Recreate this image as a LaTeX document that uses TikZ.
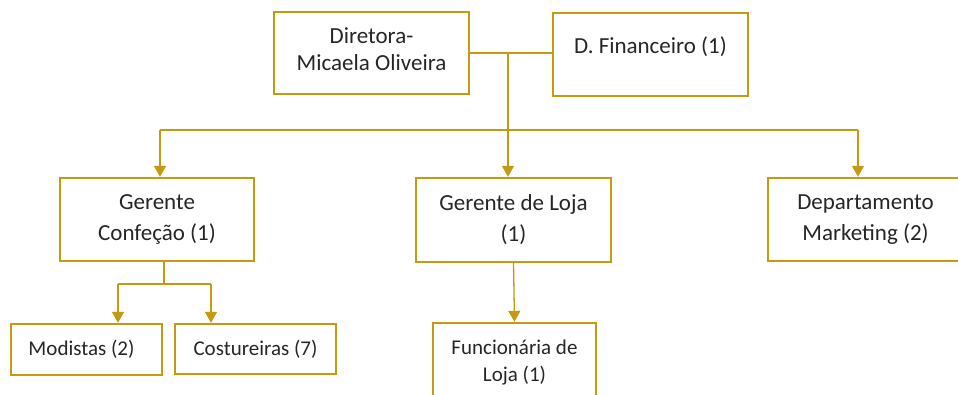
\documentclass[tikz,border=0pt]{standalone}
\usepackage{fontspec}
\setmainfont{Carlito}
\usetikzlibrary{arrows.meta}
\definecolor{gold}{HTML}{C59A10}
\tikzset{
  box/.style={draw=gold, line width=2.4bp, fill=white, align=center, inner sep=0pt,
    font=\fontsize{23bp}{27bp}\selectfont, text=black!85},
  wide/.style={font=\fontsize{23bp}{31bp}\selectfont},
  small/.style={font=\fontsize{21bp}{27bp}\selectfont},
  conn/.style={draw=gold, line width=1.3bp},
  arr/.style={conn, -{Triangle[width=12bp,length=11bp]}}
}
\begin{document}
\begin{tikzpicture}[x=1bp,y=-1bp]
\path[use as bounding box, clip] (0,0) rectangle (958,394);
\fill[white] (0,0) rectangle (958,394);
% boxes
\node[box, minimum width=195bp, minimum height=82bp, text depth=8bp] (dir) at (371.5,53) {Diretora-\\Micaela Oliveira};
\node[box, minimum width=195bp, minimum height=83bp, text depth=18bp] (fin) at (650.5,54.5) {D. Financeiro (1)};
\node[box, wide, minimum width=194bp, minimum height=83bp] (conf) at (157,219.5) {Gerente\\Confeção (1)};
\node[box, wide, minimum width=195bp, minimum height=84bp] (loja) at (513.5,220) {Gerente de Loja\\(1)};
\node[box, wide, minimum width=195bp, minimum height=83bp] (dep) at (865.5,219.5) {Departamento\\Marketing (2)};
\node[box, small, minimum width=151bp, minimum height=51bp] (mod) at (86.5,349.5) {Modistas (2)\hspace{10bp}};
\node[box, small, minimum width=161bp, minimum height=50bp] (cost) at (255.5,349) {Costureiras (7)};
\node[box, small, minimum width=163bp, minimum height=84bp, text depth=9bp] (func) at (514.5,365) {Funcionária de\\Loja (1)};
% connectors
\draw[conn] (dir.east) -- (dir.east -| fin.west);
\coordinate (j) at (508,53);
\draw[arr] (j) -- (j |- loja.north);
\coordinate (busL) at (160,130);
\coordinate (busR) at (858,130);
\draw[conn] (busL) -- (busR);
\draw[arr] (busL) -- (busL |- conf.north);
\draw[arr] (busR) -- (busR |- dep.north);
\coordinate (cs) at (164,0);
\coordinate (cj) at (164,284);
\coordinate (ml) at (118,284);
\coordinate (mr) at (211,284);
\draw[conn] (cs |- conf.south) -- (cj);
\draw[conn] (ml) -- (mr);
\draw[arr] (ml) -- (ml |- mod.north);
\draw[arr] (mr) -- (mr |- cost.north);
\draw[arr] (loja.south) -- (func.north);
\end{tikzpicture}
\end{document}
